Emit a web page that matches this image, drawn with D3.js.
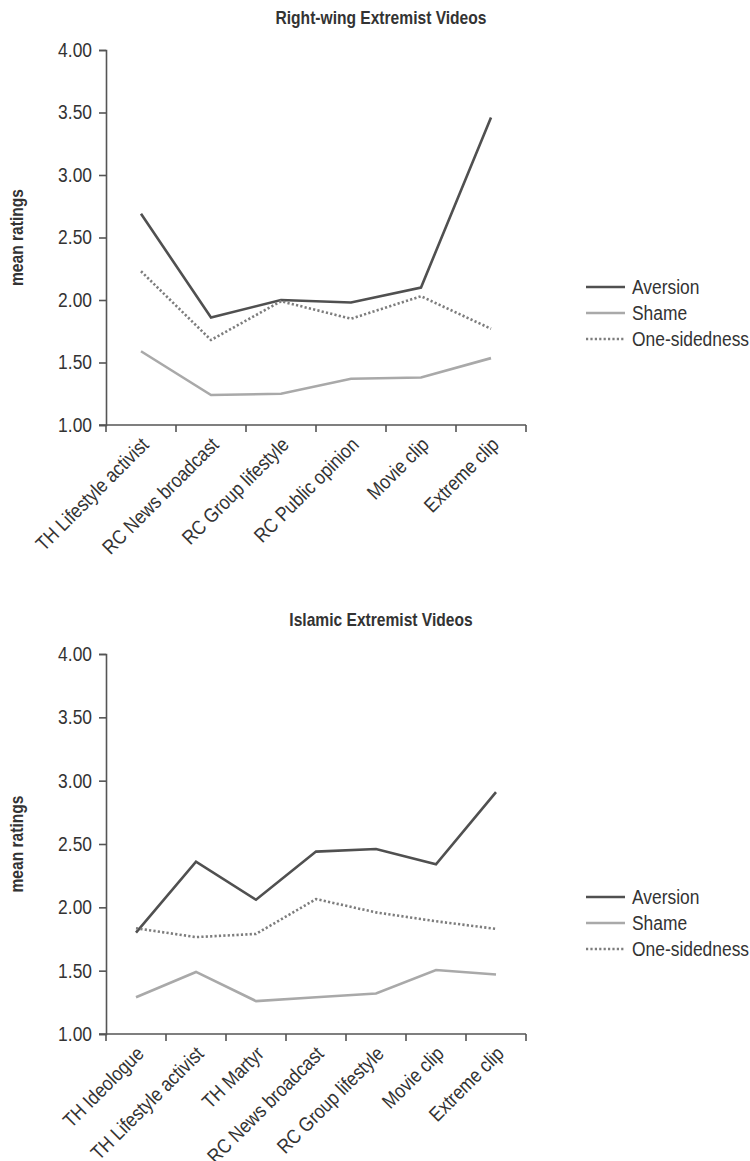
<!DOCTYPE html>
<html>
<head>
<meta charset="utf-8">
<script src="https://cdn.jsdelivr.net/npm/d3@7"></script>
<style>
  html, body { margin: 0; padding: 0; background: #fff; }
  svg { display: block; }
  text { font-family: "Liberation Sans", Arial, sans-serif; fill: #333; }
</style>
</head>
<body>
<svg id="chart" width="750" height="1161"></svg>
<script>
// Right-wing extremist videos
const rwCategories = ["TH Lifestyle activist", "RC News broadcast", "RC Group lifestyle", "RC Public opinion", "Movie clip", "Extreme clip"];
const rwAversion = [2.69, 1.86, 2.00, 1.98, 2.10, 3.46];
const rwShame = [1.59, 1.24, 1.25, 1.37, 1.38, 1.535];
const rwOneSided = [2.23, 1.68, 1.99, 1.85, 2.03, 1.77];

// Islamic extremist videos
const isCategories = ["TH Ideologue", "TH Lifestyle activist", "TH Martyr", "RC News broadcast", "RC Group lifestyle", "Movie clip", "Extreme clip"];
const isAversion = [1.80, 2.36, 2.06, 2.44, 2.46, 2.34, 2.91];
const isShame = [1.29, 1.49, 1.26, 1.29, 1.32, 1.505, 1.47];
const isOneSided = [1.835, 1.765, 1.79, 2.065, 1.96, 1.89, 1.83];

const yTicks = [1.0, 1.5, 2.0, 2.5, 3.0, 3.5, 4.0];
const seriesNames = ["Aversion", "Shame", "One-sidedness"];
const seriesColors = ["#505050", "#a9a9a9", "#7d7d7d"];
const seriesDash = [null, null, "2.2,2.2"];

const svg = d3.select("#chart");

// Condense a text horizontally (narrow typeface look) along its own baseline
function narrow(sel, f = 0.87) {
  sel.each(function () {
    const len = this.getComputedTextLength();
    this.setAttribute("textLength", (len * f).toFixed(2));
    this.setAttribute("lengthAdjust", "spacingAndGlyphs");
  });
}

function drawPanel(cfg) {
  const g = svg.append("g");
  const x = d3.scaleBand().domain(cfg.categories).range([cfg.left, cfg.right]).padding(0);
  const y = d3.scaleLinear().domain([1, 4]).range([cfg.bottom, cfg.top]);
  const axisColor = "#555";

  // title
  g.append("text")
    .attr("x", cfg.titleX).attr("y", cfg.titleY)
    .attr("text-anchor", "middle")
    .style("font-size", "19px").style("font-weight", "bold")
    .text(cfg.title)
    .call(narrow, 0.82);

  // y axis
  const yAxis = g.append("g")
    .attr("transform", `translate(${cfg.left},0)`)
    .call(d3.axisLeft(y).tickValues(yTicks).tickFormat(d3.format(".2f")).tickSize(7).tickPadding(7));
  yAxis.select(".domain").attr("stroke", axisColor).attr("stroke-width", 1.6);
  yAxis.selectAll(".tick line").attr("stroke", axisColor).attr("stroke-width", 1.6);
  yAxis.selectAll(".tick text").style("font-size", "20px").attr("fill", "#333").call(narrow);

  // y axis title
  g.append("text")
    .attr("transform", `translate(${cfg.yTitleX},${(cfg.top + cfg.bottom) / 2}) rotate(-90)`)
    .attr("text-anchor", "middle")
    .style("font-size", "19px").style("font-weight", "bold")
    .text("mean ratings")
    .call(narrow, 0.82);

  // x axis: labels centred in each band, ticks on the band boundaries
  const xAxis = g.append("g")
    .attr("transform", `translate(0,${cfg.bottom})`)
    .call(d3.axisBottom(x).tickSize(0).tickPadding(0));
  xAxis.select(".domain").remove();
  xAxis.selectAll(".tick text")
    .style("font-size", "20px").attr("fill", "#333")
    .attr("text-anchor", "end")
    .attr("dy", null)
    .attr("transform", "translate(9,21) rotate(-45)")
    .call(narrow);

  const bounds = cfg.categories.map(c => x(c)).concat([cfg.right]);
  g.append("line")
    .attr("x1", cfg.left - 7).attr("x2", cfg.right)
    .attr("y1", cfg.bottom).attr("y2", cfg.bottom)
    .attr("stroke", axisColor).attr("stroke-width", 1.6);
  g.selectAll(".btick").data(bounds).join("line")
    .attr("x1", d => d).attr("x2", d => d)
    .attr("y1", cfg.bottom).attr("y2", cfg.bottom + 7)
    .attr("stroke", axisColor).attr("stroke-width", 1.6);

  // series lines
  const line = d3.line()
    .x((d, i) => x(cfg.categories[i]) + x.bandwidth() / 2)
    .y(d => y(d));
  cfg.series.forEach((vals, k) => {
    g.append("path")
      .datum(vals)
      .attr("fill", "none")
      .attr("stroke", seriesColors[k])
      .attr("stroke-width", 2.6)
      .attr("stroke-dasharray", seriesDash[k])
      .attr("d", line);
  });

  // legend
  const leg = g.append("g");
  seriesNames.forEach((name, k) => {
    const ly = cfg.legendY + k * 26;
    leg.append("line")
      .attr("x1", 586).attr("x2", 625)
      .attr("y1", ly).attr("y2", ly)
      .attr("stroke", seriesColors[k])
      .attr("stroke-width", 2.6)
      .attr("stroke-dasharray", seriesDash[k]);
    leg.append("text")
      .attr("x", 632).attr("y", ly)
      .attr("dy", "0.35em")
      .style("font-size", "20px")
      .text(name)
      .call(narrow);
  });
}

drawPanel({
  title: "Right-wing Extremist Videos",
  categories: rwCategories,
  series: [rwAversion, rwShame, rwOneSided],
  left: 106, right: 526, top: 50, bottom: 425,
  titleX: 381, titleY: 24, yTitleX: 23, legendY: 287
});

drawPanel({
  title: "Islamic Extremist Videos",
  categories: isCategories,
  series: [isAversion, isShame, isOneSided],
  left: 106, right: 526, top: 654, bottom: 1034,
  titleX: 381, titleY: 626, yTitleX: 23, legendY: 897
});
</script>
</body>
</html>
